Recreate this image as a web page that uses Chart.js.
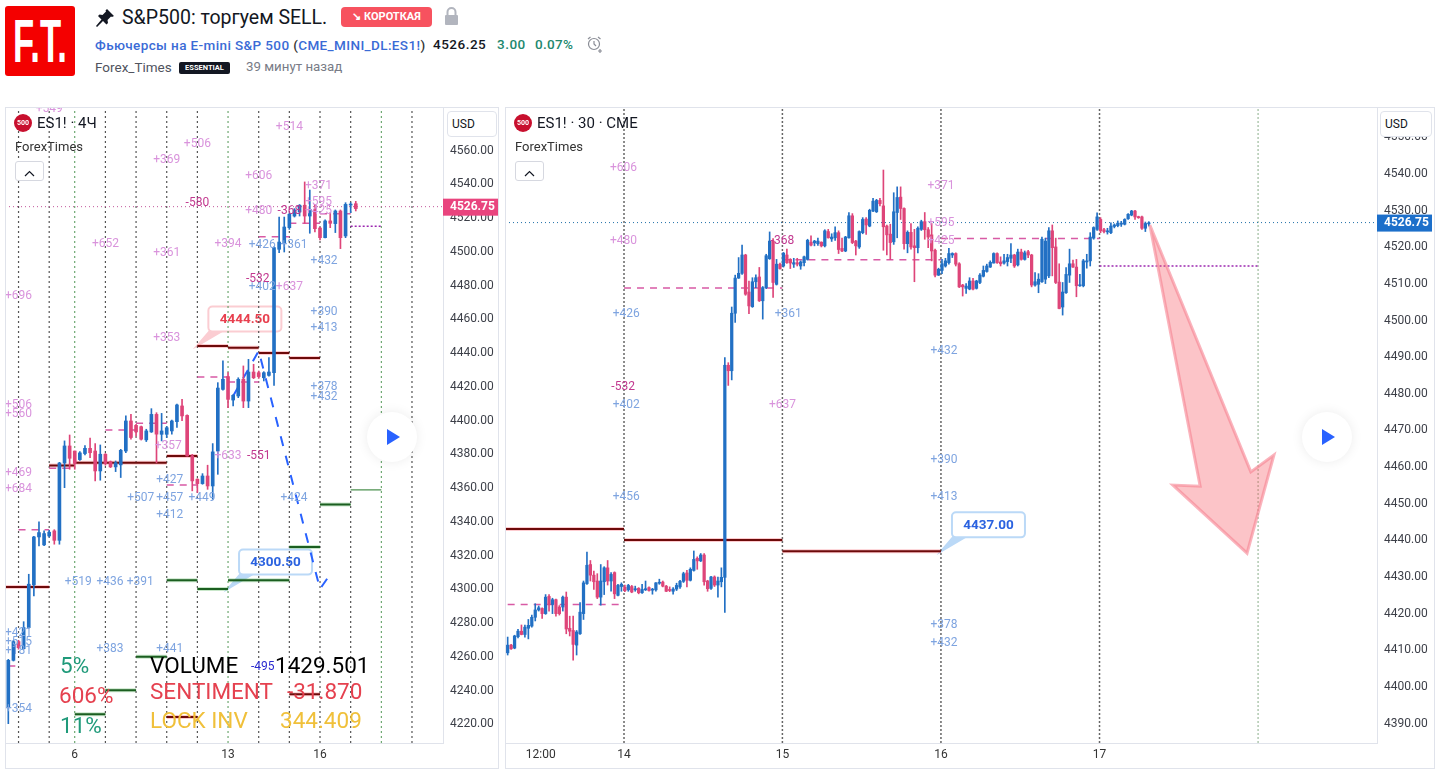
<!DOCTYPE html>
<html>
<head>
<meta charset="utf-8">
<script src="https://cdn.jsdelivr.net/npm/chart.js@4/dist/chart.umd.min.js"></script>
<style>
body { margin: 0; background: #fff; font-family: Roboto, sans-serif; color: #131722; width: 1440px; height: 774px; overflow: hidden; position: relative; }
.abs { position: absolute; white-space: nowrap; }
canvas { position: absolute; }
.panel { position: absolute; border: 1px solid #e0e3eb; box-sizing: border-box; pointer-events: none; }
.logo { left: 5px; top: 6px; width: 70px; height: 70px; background: #f40000; border-radius: 3px; overflow: hidden; }
.logo span { position: absolute; left: 8px; top: 0px; color: #fff; font: bold 62px/70px "Liberation Sans"; transform: scaleX(.56); transform-origin: left; }
.usd { width: 50px; height: 26px; border: 1px solid #e0e3eb; border-radius: 4px; background: #fff; font-size: 12px; line-height: 24px; text-indent: 4px; box-sizing: border-box; }
.badge500 { width: 18px; height: 18px; border-radius: 50%; background: #c8102e; color: #fff; font: bold 7px/18px Roboto; text-align: center; }
.fold { width: 29px; height: 20px; border: 1px solid #d6d8e0; border-radius: 3px; background: #fff; box-sizing: border-box; text-align: center; }
.play { width: 50px; height: 50px; border-radius: 50%; background: #fff; box-shadow: 0 0 12px rgba(0,0,0,.08); }
.play i { position: absolute; left: 20px; top: 17px; border-left: 13px solid #2962ff; border-top: 8px solid transparent; border-bottom: 8px solid transparent; }
.big { font-size: 22.500px; line-height: 26px; }
</style>
</head>
<body>
<div class="abs logo"><span>F.T.</span></div>
<svg class="abs" style="left:95px;top:8px" width="20" height="20" viewBox="0 0 20 20"><path d="M12 1l7 7-2 1-1-.5-3.5 3.5.5 3-1.5 1.5-3.5-3.5L2 19l-1-1 5.500-6.500L3 8l1.500-1.500 3 .5L11 3.500 10.500 2.500z" fill="#131722"/></svg>
<div class="abs" style="left:122px;top:5px;font-size:19.500px;line-height:26px">S&amp;P500: торгуем SELL.</div>
<div class="abs" style="left:341px;top:7px;width:91px;height:20px;background:#f7525f;border-radius:4px;color:#fff;font:bold 11px/20px Roboto;text-align:center">↘ КОРОТКАЯ</div>
<svg class="abs" style="left:444px;top:7px" width="15" height="19" viewBox="0 0 15 19"><rect x="1" y="8" width="13" height="10" rx="1" fill="#b2b5be"/><path d="M3.500 8V5a4 4 0 018 0v3" fill="none" stroke="#b2b5be" stroke-width="2"/></svg>
<div class="abs" style="left:95px;top:36px;font:500 13.500px/18px Roboto;color:#3a6bd6;letter-spacing:.38px">Фьючерсы на E-mini S&amp;P 500 <span style="color:#333">(</span>CME_MINI_DL:ES1!<span style="color:#333">)</span></div>
<div class="abs" style="left:433px;top:35px;font:500 13.500px/18px Roboto;color:#131722;letter-spacing:.5px">4526.25</div>
<div class="abs" style="left:497px;top:35px;font:500 13.500px/18px Roboto;color:#22886e;letter-spacing:.5px">3.00</div>
<div class="abs" style="left:535px;top:35px;font:500 13.500px/18px Roboto;color:#22886e;letter-spacing:.3px">0.07%</div>
<svg class="abs" style="left:586px;top:35px" width="18" height="18" viewBox="0 0 18 18" fill="none" stroke="#8a8d96" stroke-width="1.200"><circle cx="8" cy="9" r="5.500"/><path d="M8 6v3l2 2M2 4l2.500-2M12 2l2.500 2M14 14v4M12 16h4"/></svg>
<div class="abs" style="left:95px;top:58px;font-size:13.500px;line-height:18px;color:#50535e">Forex_Times</div>
<div class="abs" style="left:179px;top:62px;width:51px;height:12px;background:#131722;border-radius:2px;color:#fff;font:bold 7.500px/12px Roboto;text-align:center">ESSENTIAL</div>
<div class="abs" style="left:246px;top:58px;font-size:13.300px;line-height:18px;color:#787b86">39 минут назад</div>

<canvas id="leftChart" style="left:5px;top:108px"></canvas>
<canvas id="rightChart" style="left:505px;top:108px"></canvas>
<div class="panel" style="left:5px;top:107px;width:494px;height:662px"></div>
<div class="panel" style="left:505px;top:107px;width:930px;height:662px"></div>

<div class="abs badge500" style="left:14px;top:114px">500</div>
<div class="abs" style="left:37px;top:114px;font-size:15px;line-height:18px">ES1! · 4Ч</div>
<div class="abs" style="left:15px;top:139px;font-size:13px;line-height:16px;color:#333">ForexTimes</div>
<div class="abs fold" style="left:15px;top:161px"><svg width="11" height="7" viewBox="0 0 11 7" style="margin-top:5px"><path d="M1 6l4.500-4.500L10 6" fill="none" stroke="#131722" stroke-width="1.200"/></svg></div>
<div class="abs usd" style="left:447px;top:111px">USD</div>
<div class="abs play" style="left:367px;top:412px"><i></i></div>

<div class="abs badge500" style="left:514px;top:114px">500</div>
<div class="abs" style="left:537px;top:114px;font-size:15px;line-height:18px">ES1! · 30 · CME</div>
<div class="abs" style="left:515px;top:139px;font-size:13px;line-height:16px;color:#333">ForexTimes</div>
<div class="abs fold" style="left:515px;top:161px"><svg width="11" height="7" viewBox="0 0 11 7" style="margin-top:5px"><path d="M1 6l4.500-4.500L10 6" fill="none" stroke="#131722" stroke-width="1.200"/></svg></div>
<div class="abs usd" style="left:1380px;top:111px;width:52px">USD</div>
<div class="abs play" style="left:1302px;top:412px"><i></i></div>

<div class="abs big" style="left:60px;top:652px;color:#1f9a7a">5%</div>
<div class="abs big" style="left:59px;top:682px;color:#e5414f">606%</div>
<div class="abs big" style="left:60px;top:712px;color:#1f9a7a">11%</div>
<div class="abs big" style="left:150px;top:652px;color:#000">VOLUME</div>
<div class="abs big" style="left:150px;top:678px;color:#e5414f">SENTIMENT</div>
<div class="abs big" style="left:150px;top:707px;color:#f0c03a">LOCK INV</div>
<div class="abs big" style="left:275px;top:652px;color:#000">1429.501</div>
<div class="abs big" style="left:287px;top:678px;color:#e5414f">-31.870</div>
<div class="abs big" style="left:280px;top:707px;color:#f0c03a">344.409</div>

<script>
// 4H chart data
const leftOpens = [4230,4258,4269.1,4264.9,4277.4,4302.7,4331.1,4326.4,4331.7,4334.7,
  4329.1,4374.9,4385,4382,4376.9,4380.5,4383.6,4382,4370.2,4380.1,
  4375.7,4372.6,4373.8,4382,4399.8,4397.2,4396.4,4388.6,4393.3,4403.7,
  4391.9,4391.9,4393.9,4399.4,4408.7,4403.1,4379.1,4365.3,4362.7,4367.2,
  4361.3,4382,4418.5,4426.1,4412.2,4414.6,4424.5,4411.6,4428.8,4428.4,
  4425.4,4426.8,4428.4,4501.5,4505.4,4514.3,4521.2,4523.6,4527.6,4521.2,
  4525.2,4514.1,4508.4,4518.3,4516.7,4524.2,4509.4,4527.7,4528.5];
const leftCloses = [4258,4269.1,4265.5,4277.4,4303.1,4331.1,4333.7,4333.1,4333.9,4329.1,
  4374.9,4385,4377.7,4374.6,4380.9,4383.6,4381,4370.2,4380.1,4374.6,
  4372.6,4375.1,4382.4,4399.8,4390,4393.3,4389,4393.9,4403.7,4392,
  4393.9,4395.8,4399.8,4409.3,4402.8,4379.1,4364.3,4362.7,4367.2,4361.3,
  4381.5,4419.3,4424.5,4412.6,4415,4424.5,4411.6,4428.8,4425.4,4426.1,
  4428.4,4428.8,4502.5,4505.8,4514.7,4522.2,4524.8,4527.6,4521.2,4525.2,
  4513.7,4508.4,4518.3,4516.9,4524.2,4508.4,4528.1,4528.1,4525.6];
const leftHighs = [4258.6,4269.9,4269.9,4280.9,4309,4331.5,4340,4334.7,4335,4335.4,
  4375.3,4388,4391.5,4382,4381.7,4385.2,4389.6,4386.4,4385.6,4380.5,
  4376.1,4376.1,4383,4402.8,4403.7,4397.8,4396.8,4394.9,4407.1,4404.7,
  4404.3,4396.5,4400.3,4409.8,4412.6,4403.5,4380,4365.6,4368.6,4373.6,
  4386.4,4422.5,4435.4,4428.4,4415.4,4425.4,4432.4,4436.3,4433.4,4429.4,
  4429,4437.3,4502.9,4520.6,4520.6,4522.8,4525.6,4528,4541.4,4536.6,
  4528.1,4514.5,4518.9,4523.2,4524.8,4524.8,4529.1,4529.1,4529.9];
const leftLows = [4220.5,4257.6,4264.6,4264.6,4277,4296.2,4325.8,4326,4331.1,4326.8,
  4326.8,4360.3,4371.2,4371.2,4376.5,4379.7,4378.1,4364.3,4364.7,4373.6,
  4372.2,4369.8,4366.3,4381,4389,4391,4388.5,4387.6,4393,4375,
  4388,4390,4392,4396,4400,4379,4358.4,4357.4,4362.3,4359.3,
  4353.4,4368.2,4418,4407.7,4408.7,4413.6,4407.7,4407.7,4424.9,4425,
  4423.5,4426.4,4420.9,4499.5,4499.9,4513.3,4520.6,4521.2,4516.9,4511,
  4511.8,4507,4508.2,4514.3,4511.4,4501.9,4508.4,4523.2,4524.2];

const leftTicks = [4220,4240,4260,4280,4300,4320,4340,4360,4380,4400,4420,4440,4460,4480,4500,4520,4540,4560];
const leftDayLabels = ['6','13','16'];
const leftDayLabelAt = [13,43,61];
const leftDayLines = [2,8,19,25,31,37,49,55,61,67,79];
const leftWeekLines = [13,43,73];

const leftMaroon = [[-0.65,8,4301.5],[8,13,4373.4],[13,31,4375.1],[31,37,4379.1],[37,43,4444.2],[43,49,4443.2],[49,55,4440.1],[55,61,4437.1],[31,37,4224.5],[55,61,4237.9]];
const leftGreen = [[31,37,4305.4],[37,43,4300.3],[43,55,4305.4],[55,61,4325.2],[61,67,4350.3],[25,31,4260.2],[19,25,4240.3],[13,19,4226]];
const leftLastGreen = [[67,73,4359]];
const leftPinkDash = [[0,2,4254.7],[2,8,4335.4],[8,13,4371.8],[19,25,4394.5],[25,31,4398.4],[31,37,4361.9],[37,43,4425.9],[43,49,4422.9],[49,55,4509],[55,61,4516.9],[61,67,4522.6]];
const leftPurpleDots = [[67,73,4515.1]];
const leftProjectionX = [44,49,61,62.5];
const leftProjectionY = [4414.6,4441.3,4300.3,4306.8];

// text, bar index, price
const leftPinkNotes = [['+549',8,4584.6],['+506',37,4563.9],['+369',31,4554.4],['+652',19,4504.7],['+361',31,4499.3],['+394',43,4504.7],['+696',2,4473.9],['+353',31,4449],['+506',2,4409.3],['+560',2,4403.9],['+514',55,4574],['+606',49,4544.9],['+480',49,4524.2],['+371',60.7,4539],['+595',60.7,4529.5],['+425',60.7,4524.2],['+637',55,4479.2],['+357',31.3,4385],['+633',43,4379],['+469',2,4369],['+684',2,4359.5]];
const leftBlueNotes = [['+426',49.7,4504],['+361',55.9,4504],['+432',61.8,4494.6],['+402',49.7,4479.2],['+390',61.8,4464.4],['+413',61.8,4454.9],['+378',61.8,4419.9],['+432',61.8,4414],['+424',55.9,4354.2],['+507',25.9,4354.2],['+427',31.6,4364.8],['+457',31.6,4354.2],['+449',37.9,4354.2],['+412',31.6,4344.1],['+519',13.7,4304.4],['+436',19.9,4304.4],['+391',25.8,4304.4],['+383',19.9,4264.7],['+441',31.6,4264.7],['+421',2,4274.2],['+515',2,4268.9],['+181',2,4263.5],['+354',2,4229.2]];
const leftDarkNotes = [['-580',37,4528.9],['-368',55,4524.2],['-532',48.8,4483.9],['-551',49,4379]];
const leftNavyNotes = [['-495',49.8,4254.1]];

// 30 min chart data
const rightOpens = [4409.3,4411.4,4410.6,4413.7,4415.2,4414.3,4416,4416.6,4419,4421,
  4421.4,4420,4424.7,4422.5,4423.8,4421.8,4421.8,4424.5,4416,4415.4,
  4411.4,4414.5,4420,4428.2,4433.4,4430.5,4428.9,4424.5,4428.7,4432.5,
  4428.9,4431.2,4425,4427.4,4427.2,4426.5,4427.4,4426.5,4426.9,4425.7,
  4426.5,4427.1,4426.4,4426.5,4428.3,4428.6,4427.5,4426.6,4426.1,4426.7,
  4427.3,4428.8,4431.1,4429.1,4431.8,4435.1,4434.4,4436,4428.9,4426.9,
  4430,4427.8,4428.7,4429.9,4487.8,4486.3,4502,4511.6,4512.9,4517.9,
  4507.8,4503.8,4510.6,4511.9,4505.4,4509,4516.9,4521.7,4509.9,4515.4,
  4514.9,4517.9,4516.7,4515.4,4515.8,4514.9,4515.8,4516.7,4521.4,4521.2,
  4521,4521.4,4520.4,4524.3,4522.3,4522.6,4524,4519.7,4519,4522.6,
  4528.6,4521.7,4520.1,4524,4527.7,4525.8,4529.9,4529.7,4532.8,4531.3,
  4525.8,4523.6,4521.5,4529.5,4533.7,4530.6,4521,4524.1,4520.4,4519.9,
  4524.9,4527,4524.8,4523.4,4519.2,4512.4,4513.7,4514.9,4515.8,4517.9,
  4518.3,4515.5,4509.7,4508.8,4508.6,4510.8,4508.8,4510.4,4512.1,4513.4,
  4514.6,4515.7,4518.3,4516,4515.7,4516.1,4517,4517.9,4515.2,4518.7,
  4516.7,4518.8,4517.9,4509.7,4509.9,4510.6,4511.3,4512.2,4524.5,4520.1,
  4510.5,4503.7,4507.6,4512.4,4515.5,4514.6,4509.5,4509.5,4516,4516.3,
  4522.5,4524.9,4527.6,4524.8,4524.2,4524,4525.7,4525.9,4526.3,4526.3,
  4527.8,4528.8,4529.9,4528.3,4528.3,4525.2,4526.4];
const rightCloses = [4411.4,4410.4,4413.9,4415.2,4414.3,4416.3,4416.8,4419,4421,4421.6,
  4420,4424.5,4422.5,4423.8,4420,4420,4424.5,4415.8,4415.2,4411.6,
  4415,4420.4,4428.4,4433.2,4430.5,4428.7,4424.5,4428.9,4432.5,4428.9,
  4430.7,4425.4,4427.7,4428,4426.3,4427.7,4425.9,4426.8,4425.7,4426.6,
  4426.8,4426.3,4426.6,4428.4,4428.5,4427.5,4426.1,4426.3,4426.7,4427.7,
  4428.8,4430.9,4429.1,4432.1,4434.8,4434.4,4436,4428.7,4426.8,4430,
  4427.8,4428.9,4429.9,4487.8,4486.3,4502,4511.6,4512.9,4517.9,4507.2,
  4504,4510.6,4511.7,4505.4,4509,4517.7,4521.7,4510.4,4515.4,4514.2,
  4518.4,4515.8,4515.7,4515.8,4515.4,4516,4517.4,4521.9,4520.6,4521.7,
  4521.7,4520.4,4524.5,4522.6,4522.8,4524,4519.4,4519,4522.8,4528.6,
  4521.3,4520.4,4524.3,4527.6,4526.1,4530.1,4532.6,4532.8,4531.9,4525.6,
  4523.4,4521.3,4529.7,4533.6,4530.6,4521,4524.1,4520.1,4519.9,4525.2,
  4527,4524.8,4522.8,4519,4512.4,4514,4515.5,4516.3,4518.3,4518.3,
  4515.4,4509.2,4509.2,4509.4,4510.8,4508.6,4510.8,4512.4,4513.7,4514.9,
  4515.9,4518.3,4515.8,4515.5,4516.3,4517.2,4517.9,4514.9,4518.7,4516.7,
  4518.5,4517.9,4509.7,4510.6,4511.3,4522.2,4521.7,4524.5,4519.9,4510.4,
  4503.3,4507.8,4512.6,4515.5,4514.6,4509.5,4509.7,4516.3,4516.3,4522.8,
  4525.4,4528.3,4524.5,4524.3,4524.5,4525.8,4526.1,4526.6,4526.6,4527.6,
  4529,4529.9,4528.3,4528.1,4525.2,4526.5,4526.55];
const rightHighs = [4413.6,4411.6,4414.1,4415.7,4416.9,4416.9,4418.4,4419.6,4422.7,4422.1,
  4421.6,4425.2,4425.2,4424.2,4424,4422.2,4424.8,4425.9,4419.3,4419.3,
  4415.4,4423,4428.9,4436.8,4434.5,4431.6,4430.9,4433.4,4432.8,4434.5,
  4431.2,4431.4,4428,4428.4,4427.8,4428,4427.7,4427.5,4427.1,4428,
  4428.9,4427.3,4426.9,4428.5,4429.4,4428.9,4427.7,4427.3,4427.1,4428.3,
  4429.1,4431.3,4431.8,4432.5,4437.1,4435.5,4436.4,4436.4,4429.1,4430.2,
  4430.3,4430,4432.5,4489.9,4488.5,4503.7,4512.4,4517.2,4520.6,4518.1,
  4510.8,4511.7,4512.5,4514.5,4509.3,4518.1,4524.2,4522.4,4516.7,4515.7,
  4518.6,4519.5,4516.9,4517,4517,4516.3,4517.6,4522.2,4523.1,4521.9,
  4522.5,4521.5,4524.8,4524.9,4523.7,4525.6,4524.5,4522.5,4523,4529.5,
  4529.2,4521.9,4524.5,4528.1,4528.1,4530.4,4533.4,4533.1,4533.4,4541.1,
  4526.1,4526.3,4534.9,4536.5,4536.5,4530.8,4524.5,4526.5,4524.9,4525.6,
  4527.4,4529.5,4525.4,4526.5,4519.5,4514.3,4516.7,4517,4519.7,4518.5,
  4518.5,4515.8,4509.9,4510.1,4511.7,4511.5,4511,4512.8,4514.9,4515.4,
  4516.3,4518.5,4518.5,4517.4,4518.1,4518.1,4521,4518.1,4519.5,4519.5,
  4519,4519.2,4518.1,4513.1,4512.8,4522.8,4522.5,4525.4,4526.1,4522.5,
  4515.5,4510.4,4514.5,4519.5,4516.5,4516.7,4512.6,4516.7,4518.1,4524,
  4525.6,4529.4,4528.1,4525.2,4525.2,4526.7,4526.4,4527.2,4527.1,4527.8,
  4529.2,4530.1,4530.1,4528.5,4528.5,4526.9,4527];
const rightLows = [4408.7,4410.2,4410.4,4413.4,4414.2,4413.6,4413.1,4416.3,4418,4420.7,
  4418.7,4419.8,4420.7,4420,4419.3,4419.6,4420.7,4414.5,4413.9,4407.3,
  4408.7,4414.3,4418.4,4428,4428.9,4426.6,4424.1,4422.3,4425.2,4427.8,
  4426.1,4424.1,4424.8,4426.1,4426,4426.1,4425.7,4426.1,4425.4,4425.5,
  4426.3,4426.1,4425.3,4426.1,4428,4427.3,4426,4426,4425.3,4426.3,
  4426.9,4428.5,4427.3,4428.9,4431.6,4432.1,4434.2,4427.8,4426.1,4426.6,
  4427.4,4424.5,4427.3,4420.3,4482.3,4483.8,4499.5,4511.5,4512.6,4506.9,
  4501.9,4503.6,4509,4505.2,4500.4,4508.7,4516.7,4506.3,4509.7,4514,
  4514.6,4515.6,4514.2,4514.5,4514.9,4514,4514.9,4516.5,4520.4,4520.4,
  4520.5,4520.1,4520.1,4522.5,4521.6,4521.9,4518.3,4518.8,4518.8,4522.5,
  4521,4517.9,4519.7,4523.7,4523.5,4525.6,4529.7,4529.5,4531.3,4519.2,
  4517.9,4516.7,4520.8,4522.6,4527.6,4519.5,4518.5,4519.5,4510.6,4518.5,
  4524.6,4522.2,4519.9,4516.3,4511.9,4512.3,4512.8,4514.6,4515.4,4517.2,
  4514.9,4509,4506.7,4507.4,4508.4,4508.4,4508.6,4510.1,4511.9,4513.2,
  4514.5,4515.7,4515.6,4514.9,4515.4,4514.9,4515.8,4514.5,4514.9,4516.5,
  4516.5,4517.2,4509.2,4509.4,4507.6,4510.4,4510.1,4511.7,4512.2,4510.1,
  4503.2,4501.5,4507.4,4510.4,4514.5,4506.5,4509.3,4509.2,4514.3,4514.9,
  4522.2,4524.6,4524,4523.9,4523.6,4523.7,4525.3,4525.6,4525.7,4526.1,
  4527.6,4528.6,4527.6,4527.9,4524.9,4524.3,4525.8];

const rightTicks = [4390,4400,4410,4420,4430,4440,4450,4460,4470,4480,4490,4500,4510,4520,4530,4540,4550];
const rightTimeLabels = ['12:00','14','15','16','17'];
const rightTimeLabelAt = [9.6,33.75,79.7,125.7,171.7];
const rightDayLines = [33.75,79.7,125.7,171.7];
const rightWeekLines = [217.7];

const rightMaroon = [[-0.78,33.75,4443.1],[33.75,79.7,4440.1],[79.7,125.7,4437]];
const rightPinkDash = [[0,33.75,4422.5],[33.75,79.7,4508.9],[79.7,125.7,4516.6],[125.7,171.7,4522.4]];
const rightPurpleDots = [[171.7,217.7,4514.9]];
const arrowX = [186.3,215.6,222.3,214.5,193,200.9,186.3];
const arrowY = [4526.1,4458.7,4463.3,4436.5,4455.1,4454.8,4526.1];

const rightPinkNotes = [['+606',33.6,4541.7],['+480',33.6,4521.7],['+637',79.7,4476.9],['+371',125.7,4536.7],['+595',125.7,4526.6],['+425',125.7,4521.7]];
const rightBlueNotes = [['+426',34.4,4501.8],['+402',34.4,4476.9],['+456',34.4,4451.8],['+361',81.4,4501.8],['+432',126.6,4491.7],['+390',126.6,4461.9],['+413',126.6,4451.8],['+378',126.6,4416.9],['+432',126.6,4412]];
const rightDarkNotes = [['-532',33.5,4481.9],['-368',79.7,4521.7]];

const lastPrice = 4526.75;

const UP = '#2270c4', DOWN = '#de4579';
const PINK = '#d993dc', BLUE = '#7ea4e0', DARK = '#c2388f', NAVY = '#2a2ad0';

function candleSets(opens, highs, lows, closes, bodyWidth) {
    const colors = opens.map((o, i) => closes[i] >= o ? UP : DOWN);
    return [
        { type: 'bar', grouped: false, order: 1, barThickness: 1, minBarLength: 1, backgroundColor: colors,
          data: opens.map((o, i) => ({ x: i, y: [lows[i], highs[i]] })) },
        { type: 'bar', grouped: false, order: 0, barThickness: bodyWidth, minBarLength: 1, backgroundColor: colors,
          data: opens.map((o, i) => ({ x: i, y: [o, closes[i]] })) }
    ];
}

function lineSet(points, color, width, dash, order) {
    return { type: 'line', data: points, borderColor: color, borderWidth: width, borderDash: dash || [],
        pointRadius: 0, tension: 0, spanGaps: false, fill: false, order: order };
}

// flat horizontal pieces with a gap between them
function segments(list) {
    const pts = [];
    list.forEach(s => { pts.push({ x: s[0], y: s[2] }, { x: s[1], y: s[2] }, { x: s[1], y: null }); });
    return pts;
}

function verticals(list, lo, hi) {
    const pts = [];
    list.forEach(v => { pts.push({ x: v, y: lo }, { x: v, y: hi }, { x: v, y: null }); });
    return pts;
}

function drawCallout(chart, x, price, text, edge, ink) {
    const c = chart.ctx, px = chart.scales.x.getPixelForValue(x), py = chart.scales.y.getPixelForValue(price);
    c.save();
    c.lineWidth = 2;
    c.strokeStyle = edge;
    c.beginPath();
    c.moveTo(px, py);
    c.lineTo(px + 24, py - 14);
    c.lineTo(px + 12, py - 14);
    c.closePath();
    c.fillStyle = edge;
    c.fill();
    c.stroke();
    c.fillStyle = '#fff';
    c.beginPath();
    c.roundRect(px + 11, py - 39, 73, 25, 4);
    c.fill();
    c.stroke();
    c.fillStyle = ink;
    c.font = 'bold 13.5px Roboto';
    c.textAlign = 'center';
    c.textBaseline = 'middle';
    c.fillText(text, px + 47.5, py - 26);
    c.restore();
}

function annotations(groups, callouts, tagColor) {
    return {
        id: 'annotations',
        beforeDatasetsDraw(chart) {
            callouts.forEach(k => drawCallout(chart, k.x, k.price, k.text, k.edge, k.ink));
        },
        afterDatasetsDraw(chart) {
            const c = chart.ctx, a = chart.chartArea;
            c.save();
            c.beginPath();
            c.rect(a.left, a.top, a.right - a.left, a.bottom - a.top);
            c.clip();
            c.font = '12px Roboto';
            c.textAlign = 'center';
            c.textBaseline = 'middle';
            groups.forEach(g => {
                c.fillStyle = g.color;
                g.notes.forEach(n => c.fillText(n[0], chart.scales.x.getPixelForValue(n[1]), chart.scales.y.getPixelForValue(n[2])));
            });
            c.restore();
        },
        afterDraw(chart) {
            const c = chart.ctx, a = chart.chartArea, y = chart.scales.y.getPixelForValue(lastPrice);
            c.save();
            c.fillStyle = tagColor;
            c.fillRect(a.right, y - 8, 55, 17);
            c.fillStyle = '#fff';
            c.font = 'bold 12px Roboto';
            c.textBaseline = 'middle';
            c.fillText(lastPrice.toFixed(2), a.right + 7, y + 0.5);
            c.restore();
        }
    };
}

function buildChart(id, width, cfg) {
    const el = document.getElementById(id);
    el.width = width;
    el.height = 660;
    el.style.width = width + 'px';
    el.style.height = '660px';
    return new Chart(el.getContext('2d'), {
        type: 'bar',
        data: { datasets: cfg.datasets },
        plugins: [cfg.plugin],
        options: {
            responsive: false,
            animation: false,
            layout: { padding: 0 },
            plugins: { legend: { display: false }, tooltip: { enabled: false } },
            scales: {
                x: {
                    type: 'linear', offset: false, min: cfg.xMin, max: cfg.xMax,
                    grid: { display: false, drawTicks: false },
                    border: { color: '#e0e3eb' },
                    afterFit(s) { s.height = 25; s.paddingLeft = 0; s.paddingRight = 0; },
                    afterBuildTicks(s) { s.ticks = cfg.xAt.map(v => ({ value: v })); },
                    ticks: {
                        padding: 5, color: '#333', font: { family: 'Roboto', size: 12 }, maxRotation: 0, autoSkip: false,
                        callback(v) { return cfg.xLabels[cfg.xAt.indexOf(v)]; }
                    }
                },
                y: {
                    position: 'right', min: cfg.yMin, max: cfg.yMax,
                    grid: { display: false, drawTicks: false },
                    border: { color: '#e0e3eb' },
                    afterFit(s) { s.width = width - cfg.plotWidth; s.paddingTop = 0; s.paddingBottom = 0; },
                    afterBuildTicks(s) { s.ticks = cfg.yTicks.map(v => ({ value: v })); },
                    ticks: {
                        padding: 7, color: '#3c3f48', font: { family: 'Roboto', size: 12 }, autoSkip: false,
                        callback(v) { return v.toFixed(2); }
                    }
                }
            }
        }
    });
}

const leftYMin = 4209.04, leftYMax = 4585.2;
buildChart('leftChart', 493, {
    plotWidth: 438, xMin: -0.65, xMax: 85.07, yMin: leftYMin, yMax: leftYMax,
    xAt: leftDayLabelAt, xLabels: leftDayLabels, yTicks: leftTicks,
    datasets: [
        ...candleSets(leftOpens, leftHighs, leftLows, leftCloses, 3),
        lineSet(leftProjectionX.map((x, i) => ({ x: x, y: leftProjectionY[i] })), '#2962ff', 2, [10, 10], 2),
        lineSet(segments(leftMaroon), 'rgba(247,82,95,.3)', 4, [], 9),
        lineSet(segments(leftMaroon), '#6d0a0a', 2, [], 3),
        lineSet(segments(leftGreen), 'rgba(76,175,80,.3)', 4, [], 9),
        lineSet(segments(leftGreen), '#1b5e20', 2, [], 3),
        lineSet(segments(leftLastGreen), '#6aa36d', 1.5, [], 3),
        lineSet(segments(leftPinkDash), '#d85aa5', 1.5, [7, 6], 4),
        lineSet(segments(leftPurpleDots), '#9c27b0', 1.5, [2, 2], 4),
        lineSet([{ x: -0.65, y: lastPrice }, { x: 85.07, y: lastPrice }], '#c2569b', 1, [1, 3], 5),
        lineSet(verticals(leftDayLines, leftYMin, leftYMax), '#555', 1.2, [2, 3], 8),
        lineSet(verticals(leftWeekLines, leftYMin, leftYMax), '#4f9654', 1, [2, 3], 8)
    ],
    plugin: annotations([
        { color: PINK, notes: leftPinkNotes },
        { color: BLUE, notes: leftBlueNotes },
        { color: DARK, notes: leftDarkNotes },
        { color: NAVY, notes: leftNavyNotes }
    ], [
        { x: 37, price: 4444.5, text: '4444.50', edge: '#fbcdd2', ink: '#e8404f' },
        { x: 43, price: 4300.5, text: '4300.50', edge: '#bbd9f7', ink: '#2a62e0' }
    ], '#e9447e')
});

const rightYMin = 4384.68, rightYMax = 4558.03;
buildChart('rightChart', 929, {
    plotWidth: 872, xMin: -0.775, xMax: 252.2, yMin: rightYMin, yMax: rightYMax,
    xAt: rightTimeLabelAt, xLabels: rightTimeLabels, yTicks: rightTicks,
    datasets: [
        ...candleSets(rightOpens, rightHighs, rightLows, rightCloses, 2.6),
        { type: 'line', data: arrowX.map((x, i) => ({ x: x, y: arrowY[i] })), borderColor: 'rgba(247,130,145,.6)', borderWidth: 3,
          backgroundColor: 'rgba(247,82,95,.34)', fill: 'shape', pointRadius: 0, tension: 0, order: -1 },
        lineSet(segments(rightMaroon), 'rgba(247,82,95,.3)', 4, [], 9),
        lineSet(segments(rightMaroon), '#6d0a0a', 2, [], 3),
        lineSet(segments(rightPinkDash), '#d85aa5', 1.5, [7, 6], 4),
        lineSet(segments(rightPurpleDots), '#9c27b0', 1.5, [2, 2], 4),
        lineSet([{ x: -0.775, y: lastPrice }, { x: 252.2, y: lastPrice }], '#1f6fa8', 1, [1, 3], 5),
        lineSet(verticals(rightDayLines, rightYMin, rightYMax), '#666', 1.5, [2, 2], 8),
        lineSet(verticals(rightWeekLines, rightYMin, rightYMax), '#9dbb9d', 1.2, [2, 2], 8)
    ],
    plugin: annotations([
        { color: PINK, notes: rightPinkNotes },
        { color: BLUE, notes: rightBlueNotes },
        { color: DARK, notes: rightDarkNotes }
    ], [
        { x: 125.7, price: 4437, text: '4437.00', edge: '#bbd9f7', ink: '#2a62e0' }
    ], '#1c6fca')
});
</script>
</body>
</html>
